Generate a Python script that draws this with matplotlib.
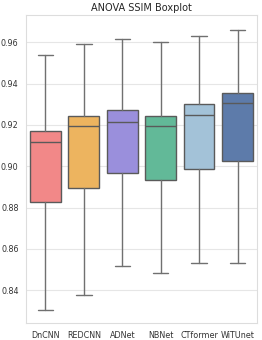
import matplotlib
matplotlib.use("Agg")
import matplotlib.pyplot as plt
import seaborn as sns

sns.set_style("whitegrid")
plt.rcParams['font.family'] = ['DejaVu Sans']

models = ["DnCNN", "REDCNN", "ADNet", "NBNet", "CTformer", "WiTUnet"]
whislo = [0.8307, 0.8379, 0.8518, 0.8483, 0.8531, 0.8534]
q1 = [0.8825, 0.8895, 0.8965, 0.8932, 0.8987, 0.9024]
med = [0.9116, 0.9194, 0.9214, 0.9194, 0.9248, 0.9305]
q3 = [0.9171, 0.9243, 0.9272, 0.9243, 0.9301, 0.9353]
whishi = [0.9539, 0.9590, 0.9613, 0.9603, 0.9630, 0.9661]
colors = ["#F28888", "#EDB45F", "#9A8FDC", "#62B998", "#A3C2D8", "#5D7BAA"]

stats = []
for i, m in enumerate(models):
    stats.append({"label": m, "whislo": whislo[i], "q1": q1[i], "med": med[i],
                  "q3": q3[i], "whishi": whishi[i], "fliers": []})

fig, ax = plt.subplots(figsize=(2.62, 3.4), dpi=100)
fig.subplots_adjust(left=0.1, right=0.98, top=0.955, bottom=0.05)

bp = ax.bxp(stats, positions=range(len(models)), widths=0.8, patch_artist=True,
            showfliers=False,
            boxprops=dict(edgecolor="#5a5a5a", linewidth=1.0),
            medianprops=dict(color="#5a5a5a", linewidth=1.0),
            whiskerprops=dict(color="#707070", linewidth=1.0),
            capprops=dict(color="#707070", linewidth=1.0))
for patch, c in zip(bp["boxes"], colors):
    patch.set_facecolor(c)

ax.set_xlim(-0.5, len(models) - 0.5)
ax.set_ylim(0.8242, 0.973)
ax.set_yticks([0.84, 0.86, 0.88, 0.90, 0.92, 0.94, 0.96])
ax.set_yticklabels(["0.84", "0.86", "0.88", "0.90", "0.92", "0.94", "0.96"])
ax.tick_params(labelsize=5.8, pad=2, colors="#333333")
ax.xaxis.grid(False)
ax.yaxis.grid(True, color="#e6e6e6", linewidth=0.8)
ax.set_title("ANOVA SSIM Boxplot", fontsize=7, pad=3)
for s in ax.spines.values():
    s.set_color("#dddddd")

fig.savefig("out.png", dpi=100)
